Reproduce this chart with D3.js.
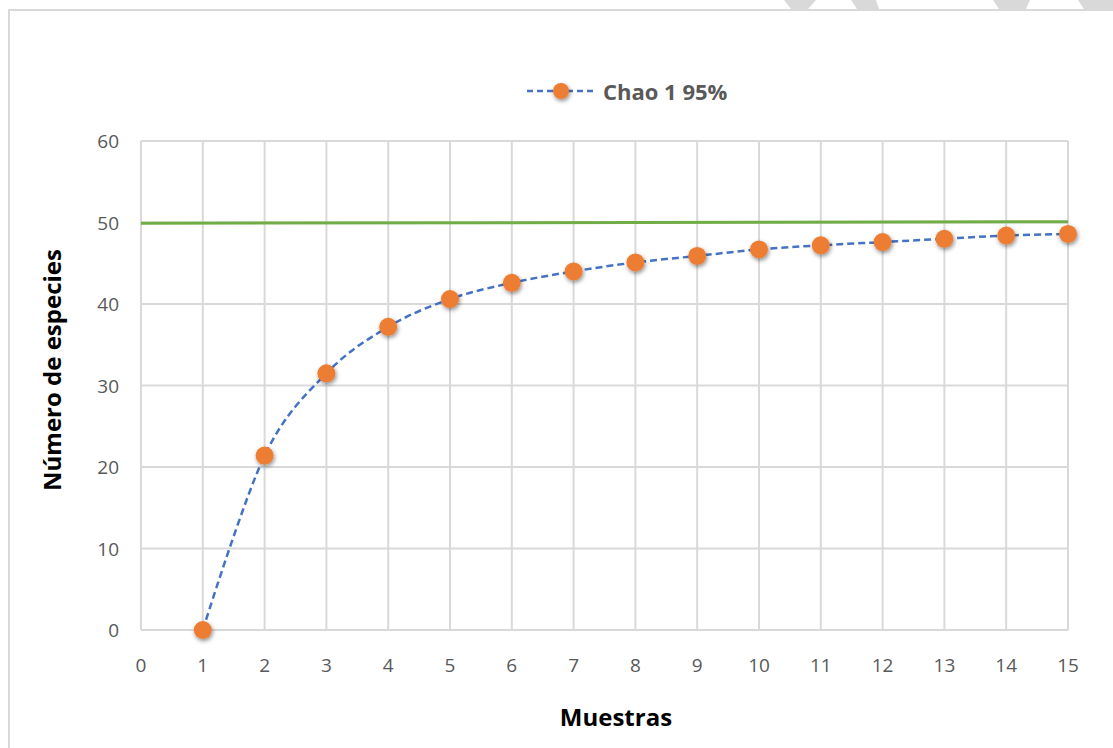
<!DOCTYPE html>
<html lang="es">
<head>
    <meta charset="UTF-8">
    <title>Chao 1 95%</title>
    <script src="https://d3js.org/d3.v7.min.js"></script>
    <style>
        body { margin: 0; background: #fff; }
        .tick-label { font-family: "Open Sans", sans-serif; font-size: 19px; fill: #595959; }
        .axis-title { font-family: "Open Sans", sans-serif; font-size: 24px; font-weight: bold; fill: #000; }
        .legend-text { font-family: "Open Sans", sans-serif; font-size: 22px; font-weight: bold; fill: #595959; }
    </style>
</head>
<body>
<svg id="chart" width="1113" height="748"></svg>
<script>
    // Data
    const muestras = [1, 2, 3, 4, 5, 6, 7, 8, 9, 10, 11, 12, 13, 14, 15];
    const chao = [0, 21.4, 31.5, 37.2, 40.6, 42.6, 44.0, 45.1, 45.9, 46.7, 47.2, 47.6, 48.0, 48.4, 48.6];
    const refX = [0, 15];
    const refY = [49.9, 50.1];
    const xTicks = d3.range(0, 16);
    const yTicks = [0, 10, 20, 30, 40, 50, 60];

    const svg = d3.select("#chart");

    // plot area
    const plotLeft = 141, plotRight = 1068, plotTop = 141, plotBottom = 630;

    const x = d3.scaleLinear().domain([0, 15]).range([plotLeft, plotRight]);
    const y = d3.scaleLinear().domain([0, 60]).range([plotBottom, plotTop]);

    // drop shadow for markers
    const defs = svg.append("defs");
    const filter = defs.append("filter").attr("id", "shadow")
        .attr("x", "-50%").attr("y", "-50%").attr("width", "200%").attr("height", "200%");
    filter.append("feDropShadow")
        .attr("dx", 1).attr("dy", 2).attr("stdDeviation", 2)
        .attr("flood-color", "#000").attr("flood-opacity", 0.45);

    // grey scraps of the page watermark above the frame (top right)
    const scraps = [
        [[784, 0], [816, 0], [808, 9], [791, 9]],
        [[851, 0], [876, 0], [879, 9], [857, 9]],
        [[993, 0], [1030, 0], [1026, 9], [999, 9]],
        [[1078, 0], [1113, 0], [1113, 9], [1084, 9]]
    ];
    svg.append("g").selectAll("polygon")
        .data(scraps)
        .join("polygon")
        .attr("points", d => d.map(p => p.join(",")).join(" "))
        .attr("fill", "#d9d9d9");

    // outer chart border
    svg.append("rect")
        .attr("x", 9).attr("y", 10)
        .attr("width", 1120).attr("height", 760)
        .attr("fill", "none")
        .attr("stroke", "#d9d9d9")
        .attr("stroke-width", 2);

    // gridlines
    svg.append("g").selectAll("line")
        .data(yTicks)
        .join("line")
        .attr("x1", plotLeft).attr("x2", plotRight)
        .attr("y1", d => y(d)).attr("y2", d => y(d))
        .attr("stroke", "#d9d9d9").attr("stroke-width", 2);

    svg.append("g").selectAll("line")
        .data(xTicks)
        .join("line")
        .attr("x1", d => x(d)).attr("x2", d => x(d))
        .attr("y1", plotTop).attr("y2", plotBottom)
        .attr("stroke", "#d9d9d9").attr("stroke-width", 2);

    // tick labels
    svg.append("g").selectAll("text")
        .data(yTicks)
        .join("text")
        .attr("class", "tick-label")
        .attr("x", plotLeft - 22)
        .attr("y", d => y(d))
        .attr("text-anchor", "end")
        .attr("dominant-baseline", "central")
        .text(d => d);

    svg.append("g").selectAll("text")
        .data(xTicks)
        .join("text")
        .attr("class", "tick-label")
        .attr("x", d => x(d))
        .attr("y", 665)
        .attr("text-anchor", "middle")
        .attr("dominant-baseline", "central")
        .text(d => d);

    // axis titles
    svg.append("text")
        .attr("class", "axis-title")
        .attr("x", 616)
        .attr("y", 716)
        .attr("text-anchor", "middle")
        .attr("dominant-baseline", "central")
        .text("Muestras");

    svg.append("text")
        .attr("class", "axis-title")
        .attr("transform", "translate(51, 370) rotate(-90)")
        .attr("text-anchor", "middle")
        .attr("dominant-baseline", "central")
        .text("Número de especies");

    // green reference line
    svg.append("path")
        .datum(refX.map((d, i) => [d, refY[i]]))
        .attr("fill", "none")
        .attr("stroke", "#70ad47")
        .attr("stroke-width", 3)
        .attr("d", d3.line().x(d => x(d[0])).y(d => y(d[1])));

    // Chao 1 curve
    const pts = muestras.map((d, i) => [d, chao[i]]);
    svg.append("path")
        .datum(pts)
        .attr("fill", "none")
        .attr("stroke", "#4472c4")
        .attr("stroke-width", 2.5)
        .attr("stroke-dasharray", "7,4")
        .attr("d", d3.line().curve(d3.curveCardinal.tension(0))
            .x(d => x(d[0])).y(d => y(d[1])));

    svg.append("g").selectAll("circle")
        .data(pts)
        .join("circle")
        .attr("cx", d => x(d[0]))
        .attr("cy", d => y(d[1]))
        .attr("r", 9)
        .attr("fill", "#ed7d31")
        .attr("filter", "url(#shadow)");

    // legend
    const lg = svg.append("g").attr("transform", "translate(527, 91)");
    lg.append("line")
        .attr("x1", 0).attr("x2", 69).attr("y1", 0).attr("y2", 0)
        .attr("stroke", "#4472c4").attr("stroke-width", 2.5)
        .attr("stroke-dasharray", "6,4");
    lg.append("circle")
        .attr("cx", 34).attr("cy", 0).attr("r", 8)
        .attr("fill", "#ed7d31")
        .attr("filter", "url(#shadow)");
    lg.append("text")
        .attr("class", "legend-text")
        .attr("x", 76).attr("y", 0)
        .attr("dominant-baseline", "central")
        .text("Chao 1 95%");
</script>
</body>
</html>
